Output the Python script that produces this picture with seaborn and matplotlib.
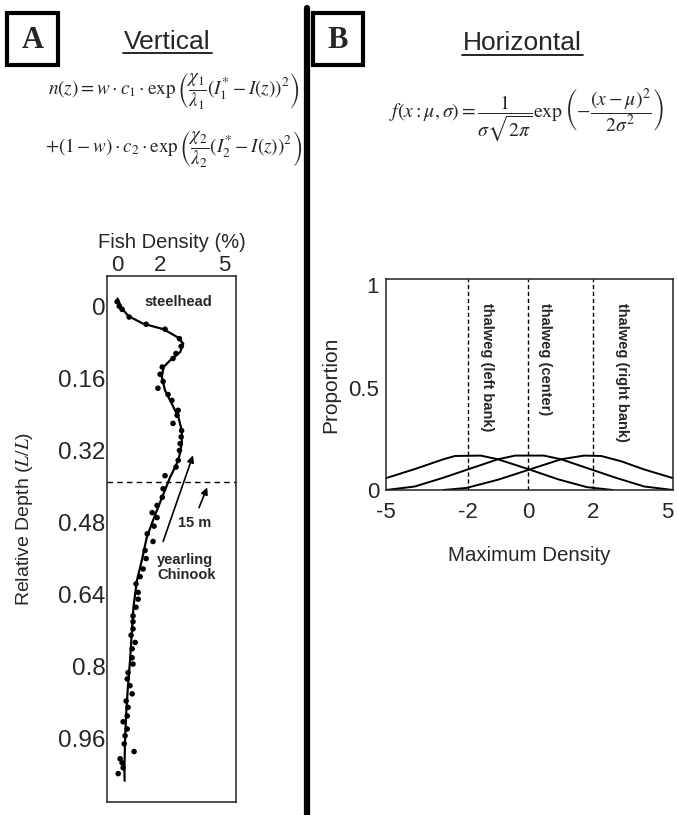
import numpy as np
import pandas as pd
import matplotlib
matplotlib.use("Agg")
import matplotlib.pyplot as plt
from matplotlib.lines import Line2D
from matplotlib.patches import Rectangle
import seaborn as sns

# Panel A: observed fish density by relative depth
depth_obs = [-0.01, 0.0, 0.007, 0.024, 0.04, 0.051, 0.072, 0.089, 0.105, 0.116,
             0.135, 0.151, 0.167, 0.182, 0.196, 0.209, 0.231, 0.242, 0.26, 0.276,
             0.29, 0.305, 0.32, 0.342, 0.357, 0.376, 0.405, 0.424, 0.442, 0.458,
             0.469, 0.488, 0.505, 0.522, 0.542, 0.56, 0.583, 0.6, 0.616, 0.635,
             0.65, 0.668, 0.687, 0.70, 0.716, 0.73, 0.746, 0.76, 0.78, 0.794,
             0.813, 0.827, 0.842, 0.86, 0.876, 0.89, 0.909, 0.922, 0.938, 0.953,
             0.971, 0.988, 1.004, 1.013, 1.024, 1.037]
density_obs = [0.0, 0.1, 0.23, 0.56, 1.35, 2.23, 2.9, 2.98, 2.74, 2.6,
               2.1, 2.0, 2.14, 1.9, 2.37, 2.55, 2.84, 2.79, 2.6, 3.0,
               2.98, 2.93, 2.9, 2.84, 2.74, 2.23, 2.14, 2.1, 1.86, 1.63,
               1.86, 1.72, 1.4, 1.67, 1.3, 1.35, 1.21, 1.07, 0.88, 0.98,
               0.98, 0.88, 0.74, 0.74, 0.74, 0.65, 0.84, 0.7, 0.7, 0.74,
               0.51, 0.47, 0.6, 0.7, 0.42, 0.51, 0.47, 0.28, 0.47, 0.37,
               0.33, 0.79, 0.14, 0.23, 0.28, 0.05]

# Panel A: fitted curve
fit_depth = [-0.017, 0.005, 0.022, 0.039, 0.051, 0.068, 0.083, 0.102, 0.12, 0.135,
             0.157, 0.187, 0.216, 0.246, 0.276, 0.305, 0.342, 0.379, 0.416, 0.453,
             0.483, 0.513, 0.564, 0.609, 0.668, 0.727, 0.787, 0.846, 0.905, 0.964,
             1.024, 1.053]
fit_density = [0.02, 0.22, 0.53, 1.22, 2.16, 2.78, 3.08, 2.93, 2.47, 2.16,
               2.08, 2.23, 2.54, 2.85, 3.01, 3.01, 2.85, 2.47, 2.16, 1.85,
               1.61, 1.38, 1.15, 0.92, 0.76, 0.68, 0.6, 0.5, 0.42, 0.37,
               0.34, 0.35]

depth_ticks = [0, 0.16, 0.32, 0.48, 0.64, 0.8, 0.96]
depth_ticklabels = ["0", "0.16", "0.32", "0.48", "0.64", "0.8", "0.96"]
density_ticks = [0, 2, 5]
line_15m_depth = 0.39

# Panel B: lateral distributions
left_x = [-5, -4, -3, -2.6, -1.7, -1.1, 0, 1, 2, 2.9]
left_y = [0.058, 0.102, 0.15, 0.166, 0.168, 0.15, 0.1, 0.052, 0.014, 0.0]
center_x = [-5, -4, -3, -2.2, -1.1, -0.5, 0.5, 1.1, 2.2, 3, 4, 5]
center_y = [0.0, 0.017, 0.06, 0.098, 0.15, 0.168, 0.168, 0.15, 0.098, 0.06, 0.017, 0.0]
right_x = [-3.0, -2.2, -1.1, 0, 1.1, 1.9, 2.5, 3.2, 4, 5]
right_y = [0.0, 0.01, 0.05, 0.1, 0.15, 0.168, 0.166, 0.14, 0.1, 0.058]

thalweg_x = [-2.15, -0.05, 2.2]
thalweg_labels = ["thalweg (left bank)", "thalweg (center)", "thalweg (right bank)"]
thalweg_text_x = [-1.48, 0.54, 3.22]
b_ticks = [-5, -2.15, -0.05, 2.2, 5]
b_ticklabels = ["-5", "-2", "0", "2", "5"]

sns.set_style("white")
plt.rcParams["font.family"] = ["Liberation Sans", "DejaVu Sans"]
plt.rcParams["mathtext.fontset"] = "stix"

W, H = 678, 815
fig = plt.figure(figsize=(W / 100, H / 100), dpi=100)


def fx(px):
    return px / W


def fy(py):
    return 1 - py / H


# ---------------- Panel A ----------------
axA = fig.add_axes([fx(107), fy(802), fx(236) - fx(107), fy(276) - fy(802)])
obs = pd.DataFrame({"density": density_obs, "depth": depth_obs})
fit = pd.DataFrame({"density": fit_density, "depth": fit_depth})
sns.lineplot(data=fit, x="density", y="depth", sort=False, estimator=None,
             color="black", lw=1.6, ax=axA)
sns.scatterplot(data=obs, x="density", y="depth", color="black", s=16,
                edgecolor="none", ax=axA)
axA.axhline(line_15m_depth, color="black", ls=(0, (4, 3)), lw=1.0)
axA.set_xlim(-0.47, 5.53)
axA.set_ylim(1.10, -0.067)
axA.xaxis.tick_top()
axA.xaxis.set_label_position("top")
axA.set_xticks(density_ticks)
axA.set_xticklabels([str(t) for t in density_ticks])
axA.set_yticks(depth_ticks)
axA.set_yticklabels(depth_ticklabels)
axA.tick_params(axis="x", length=0, pad=0, labelsize=16)
axA.tick_params(axis="y", length=0, pad=1, labelsize=17.5)
axA.set_xlabel("Fish Density (%)", fontsize=14.5, labelpad=5)
axA.set_ylabel("")
for sp in axA.spines.values():
    sp.set_linewidth(1.1)
    sp.set_color("#222222")

axA.text(2.85, -0.01, "steelhead", ha="center", va="center",
         fontsize=10.5, fontweight="bold")
axA.text(3.6, 0.482, "15 m", ha="center", va="center",
         fontsize=10.5, fontweight="bold")
axA.text(1.86, 0.58, "yearling\nChinook", ha="left", va="center",
         multialignment="left", fontsize=10.5, fontweight="bold",
         linespacing=1.05)
axA.annotate("", xy=(3.53, 0.331), xytext=(2.14, 0.522),
             arrowprops=dict(arrowstyle="-|>", color="black", lw=1.2,
                             mutation_scale=10, shrinkA=0, shrinkB=0))
axA.annotate("", xy=(4.19, 0.402), xytext=(3.81, 0.447),
             arrowprops=dict(arrowstyle="-|>", color="black", lw=1.2,
                             mutation_scale=10, shrinkA=0, shrinkB=0))

fig.text(fx(25), fy(519), "Relative Depth ($\\mathit{L/L}$)", rotation=90,
         ha="center", va="center", fontsize=14)

# ---------------- Panel B ----------------
axB = fig.add_axes([fx(386), fy(490), fx(673) - fx(386), fy(279) - fy(490)])
curves = pd.concat([
    pd.DataFrame({"x": left_x, "y": left_y, "bank": "left"}),
    pd.DataFrame({"x": center_x, "y": center_y, "bank": "center"}),
    pd.DataFrame({"x": right_x, "y": right_y, "bank": "right"}),
])
sns.lineplot(data=curves, x="x", y="y", hue="bank", units="bank",
             estimator=None, sort=False, palette=["black"] * 3, lw=1.4,
             legend=False, ax=axB)
for xv, lab, tx in zip(thalweg_x, thalweg_labels, thalweg_text_x):
    axB.axvline(xv, color="black", ls=(0, (3, 2)), lw=1.0)
    axB.text(tx, 0.915, lab, rotation=-90, ha="center", va="top",
             fontsize=10.5, fontweight="bold")
axB.set_xlim(-5, 5)
axB.set_ylim(0, 1.03)
axB.set_xticks(b_ticks)
axB.set_xticklabels(b_ticklabels)
axB.set_yticks([0, 0.5, 1])
axB.set_yticklabels(["0", "0.5", "1"])
axB.tick_params(axis="both", length=3, direction="in", labelsize=16)
axB.tick_params(axis="x", pad=9)
axB.tick_params(axis="y", pad=5)
axB.get_xticklabels()[-1].set_horizontalalignment("right")
axB.set_xlabel("Maximum Density", fontsize=14.8, labelpad=16)
axB.set_ylabel("Proportion", fontsize=15, labelpad=6)
for sp in axB.spines.values():
    sp.set_linewidth(1.1)
    sp.set_color("#222222")

# ---------------- Headers ----------------
fig.add_artist(Line2D([fx(306.5)] * 2, [fy(8), 0], color="black", lw=4.5))

for (x0, x1, lab) in [(7, 58, "A"), (313, 363, "B")]:
    fig.add_artist(Rectangle((fx(x0), fy(65)), fx(x1) - fx(x0), fy(13) - fy(65),
                             fill=False, lw=3, ec="black",
                             transform=fig.transFigure))
    fig.text(fx((x0 + x1) / 2), fy(40), lab, ha="center", va="center",
             fontsize=22, fontweight="bold", family="Liberation Serif")

fig.text(fx(167), fy(49), "Vertical", ha="center", va="baseline", fontsize=19)
fig.add_artist(Line2D([fx(123), fx(212)], [fy(53)] * 2, color="black", lw=1.2))
fig.text(fx(522), fy(50), "Horizontal", ha="center", va="baseline", fontsize=19)
fig.add_artist(Line2D([fx(462), fx(583)], [fy(55)] * 2, color="black", lw=1.2))

eq1 = r"$n(z)=w\cdot c_1\cdot\exp\left(\dfrac{\chi_1}{\lambda_1}(I_1^{*}-I(z))^2\right)$"
eq2 = r"$+(1-w)\cdot c_2\cdot\exp\left(\dfrac{\chi_2}{\lambda_2}(I_2^{*}-I(z))^2\right)$"
eqB = r"$f(x:\mu,\sigma)=\dfrac{1}{\sigma\sqrt{2\pi}}\exp\left(-\dfrac{(x-\mu)^2}{2\sigma^2}\right)$"
fig.text(fx(174), fy(92), eq1, ha="center", va="center", fontsize=13.8)
fig.text(fx(174), fy(150), eq2, ha="center", va="center", fontsize=13.8)
fig.text(fx(526), fy(115), eqB, ha="center", va="center", fontsize=14.2)

fig.savefig("out.png", dpi=100)
